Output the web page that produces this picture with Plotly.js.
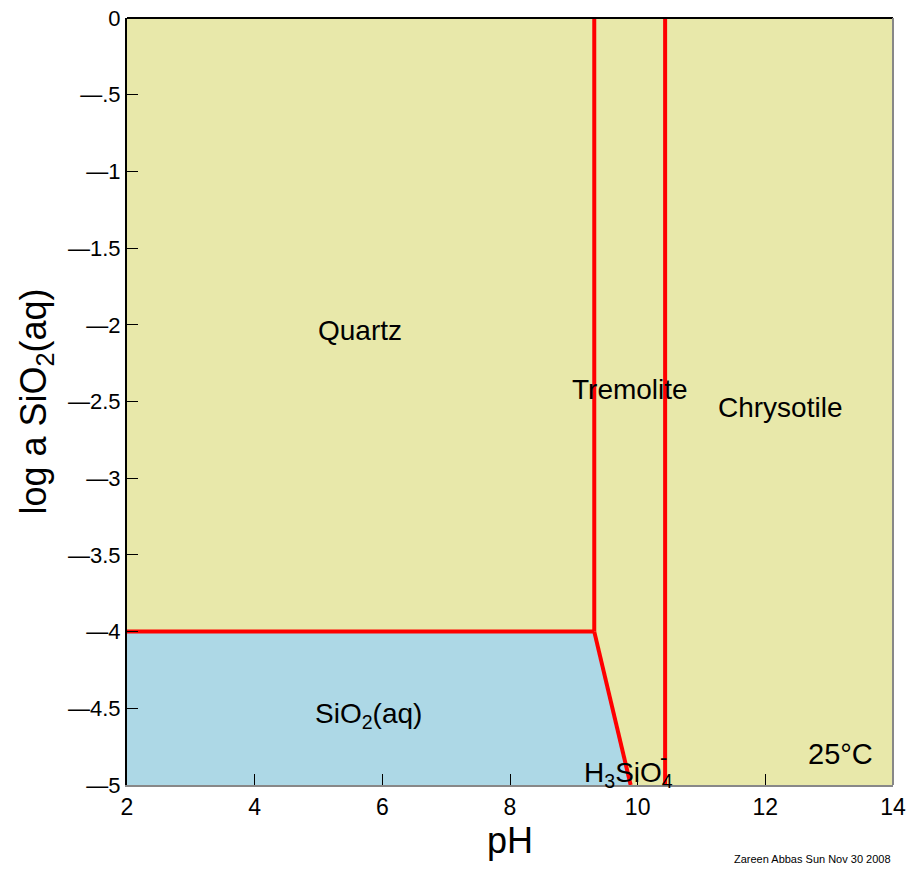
<!DOCTYPE html>
<html>
<head>
<meta charset="utf-8">
<script src="https://cdn.plot.ly/plotly-3.0.1.min.js"></script>
<style>
  html, body { margin: 0; padding: 0; background: #fff; }
  #chart { width: 913px; height: 872px; }
</style>
</head>
<body>
<div id="chart"></div>
<script>
// Activity diagram for SiO2(aq) vs pH at 25°C
// Phase boundaries (pH, log a SiO2(aq))
const quartzAqX = [2, 9.32];
const quartzAqY = [-4, -4];
const aqH3SiO4X = [9.32, 9.89];
const aqH3SiO4Y = [-4, -5];
const quartzTremX = [9.32, 9.32];
const quartzTremY = [-4, 0];
const tremChrysX = [10.43, 10.43];
const tremChrysY = [-5, 0];

// SiO2(aq) stability field
const aqFieldX = [2, 9.32, 9.89, 2, 2];
const aqFieldY = [-4, -4, -5, -5, -4];

// Field labels
const labelText = ['Quartz', 'Tremolite', 'Chrysotile', 'SiO<sub>2</sub>(aq)', 'H<sub>3</sub>SiO<sub>4</sub>', '25°C'];
const labelX = [5.65, 9.88, 12.23, 5.78, 9.86, 13.18];
const labelY = [-2.04, -2.42, -2.54, -4.55, -4.93, -4.8];

// Axis ticks
const xTicks = [2, 4, 6, 8, 10, 12, 14];
const yTicks = [0, -0.5, -1, -1.5, -2, -2.5, -3, -3.5, -4, -4.5, -5];
const yTickText = ['0', '\u2014.5', '\u20141', '\u20141.5', '\u20142', '\u20142.5', '\u20143', '\u20143.5', '\u20144', '\u20144.5', '\u20145'];

const yellow = '#E8E8AA';
const blue = '#ADD8E6';
const red = '#FF0000';
const font = 'Liberation Sans, Arial, sans-serif';

const redLine = (x, y) => ({
  x: x, y: y, type: 'scatter', mode: 'lines',
  line: { color: red, width: 4 }, hoverinfo: 'skip', showlegend: false,
  cliponaxis: false
});

const traces = [
  {
    x: aqFieldX, y: aqFieldY, type: 'scatter', mode: 'lines',
    fill: 'toself', fillcolor: blue, line: { width: 0, color: blue },
    hoverinfo: 'skip', showlegend: false
  },
  redLine(quartzAqX, quartzAqY),
  redLine(aqH3SiO4X, aqH3SiO4Y),
  redLine(quartzTremX, quartzTremY),
  redLine(tremChrysX, tremChrysY)
];

const annotations = labelText.map((t, i) => ({
  x: labelX[i], y: labelY[i], xref: 'x', yref: 'y', text: t, showarrow: false,
  font: { family: font, size: i === 5 ? 29 : 28, color: '#000' }
}));
// charge sign sits above the subscript 4
annotations.push({
  x: 10.4, y: -4.82, xref: 'x', yref: 'y', text: '-', showarrow: false,
  font: { family: font, size: 22, color: '#000' }
});
annotations.push({
  x: 1, y: 0, xref: 'paper', yref: 'paper', yshift: -66, xshift: 0,
  xanchor: 'right', yanchor: 'top', text: 'Zareen Abbas Sun Nov 30 2008',
  showarrow: false, font: { family: font, size: 11, color: '#000' }
});

const layout = {
  width: 913, height: 872,
  margin: { l: 127, r: 20, t: 18, b: 87 },
  paper_bgcolor: '#fff',
  plot_bgcolor: yellow,
  font: { family: font, color: '#000' },
  showlegend: false,
  xaxis: {
    range: [2, 14], tickvals: xTicks, ticks: 'inside', ticklen: 11,
    tickcolor: '#000', tickwidth: 1, showgrid: false, zeroline: false,
    showline: true, linecolor: '#888', linewidth: 2,
    tickfont: { family: font, size: 23 },
    title: { text: 'pH', font: { family: font, size: 36 }, standoff: 8 }
  },
  yaxis: {
    range: [-5, 0], tickvals: yTicks, ticktext: yTickText, ticks: 'inside',
    ticklen: 11, tickcolor: '#000', tickwidth: 1, showgrid: false,
    zeroline: false, showline: true, linecolor: '#000', linewidth: 2,
    tickfont: { family: font, size: 22 },
    title: { text: 'log a SiO<sub>2</sub>(aq)', font: { family: font, size: 36 }, standoff: 10 }
  },
  shapes: [
    { type: 'line', xref: 'paper', yref: 'paper', x0: 0, x1: 1, y0: 1, y1: 1, line: { color: '#000', width: 2 } },
    { type: 'line', xref: 'paper', yref: 'paper', x0: 1, x1: 1, y0: 0, y1: 1, line: { color: '#888', width: 2 } }
  ],
  annotations: annotations
};

Plotly.newPlot('chart', traces, layout, { displayModeBar: false, staticPlot: true });
</script>
</body>
</html>
